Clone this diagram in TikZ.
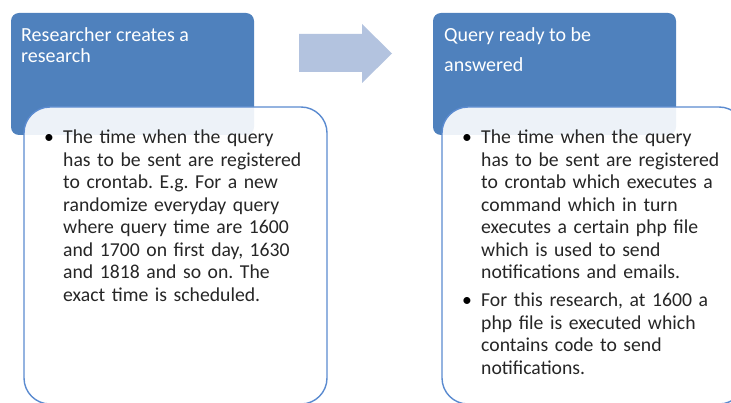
\documentclass[tikz,border=0pt]{standalone}
\usepackage{fontspec}
\setmainfont{Carlito}
\frenchspacing
\definecolor{hdrblue}{HTML}{4F81BD}
\definecolor{edgeblue}{HTML}{5B8BD0}
\definecolor{arrowblue}{HTML}{B3C3DF}
\definecolor{bodytext}{HTML}{262626}
\tikzset{
  header/.style={fill=hdrblue, rounded corners=8pt},
  card/.style={fill=white, fill opacity=0.9, draw=edgeblue, draw opacity=1, line width=1.4pt, rounded corners=26pt},
  hdrtext/.style={anchor=base west, inner sep=0pt, text=white, align=left},
  bodytxt/.style={anchor=base west, inner sep=0pt, text=bodytext, align=left, text width=250pt, font=\fontsize{19.7}{22.5}\selectfont},
  bulletmark/.style={anchor=base, inner sep=0pt, text=black, font=\fontsize{19.7}{22.5}\selectfont},
  flowarrow/.style={fill=arrowblue}
}
\begin{document}
\begin{tikzpicture}[x=1pt,y=-1pt]
\useasboundingbox (0,0) rectangle (731,403);
\clip (0,0) rectangle (731,403);
% headers
\fill[header] (11,13) rectangle (254,135);
\fill[header] (433,13) rectangle (676,135);
% arrow
\fill[flowarrow] (299,34) -- (362,34) -- (362,24) -- (392,53.5) -- (362,83) -- (362,72) -- (299,72) -- cycle;
% cards
\path[card] (24,107) rectangle (327,404);
\path[card] (442,107) rectangle (745,404);
% header texts (base anchor = last line's baseline)
\node[hdrtext, font=\fontsize{20}{21}\selectfont] (t1) at (21,63) {Researcher creates a\\research};
\node[hdrtext, font=\fontsize{20}{30}\selectfont] (t2) at (444,72) {Query ready to be\\answered};
% left body
\node[bulletmark] (b1) at (49,144) {•};
\node[bodytxt] (p1) at (63,144) {The time when the query\\has to be sent are registered\\to crontab. E.g. For a new\\randomize everyday query\\where query time are 1600\\and 1700 on first day, 1630\\and 1818 and so on. The\\exact time is scheduled.};
% right body
\node[bulletmark] (b2) at (467,144) {•};
\node[bodytxt] (p2) at (481,144) {The time when the query\\has to be sent are registered\\to crontab which executes a\\command which in turn\\executes a certain php file\\which is used to send\\notifications and emails.};
\node[bulletmark] (b3) at (467,307) {•};
\node[bodytxt] (p3) at (481,307) {For this research, at 1600 a\\php file is executed which\\contains code to send\\notifications.};
\end{tikzpicture}
\end{document}
